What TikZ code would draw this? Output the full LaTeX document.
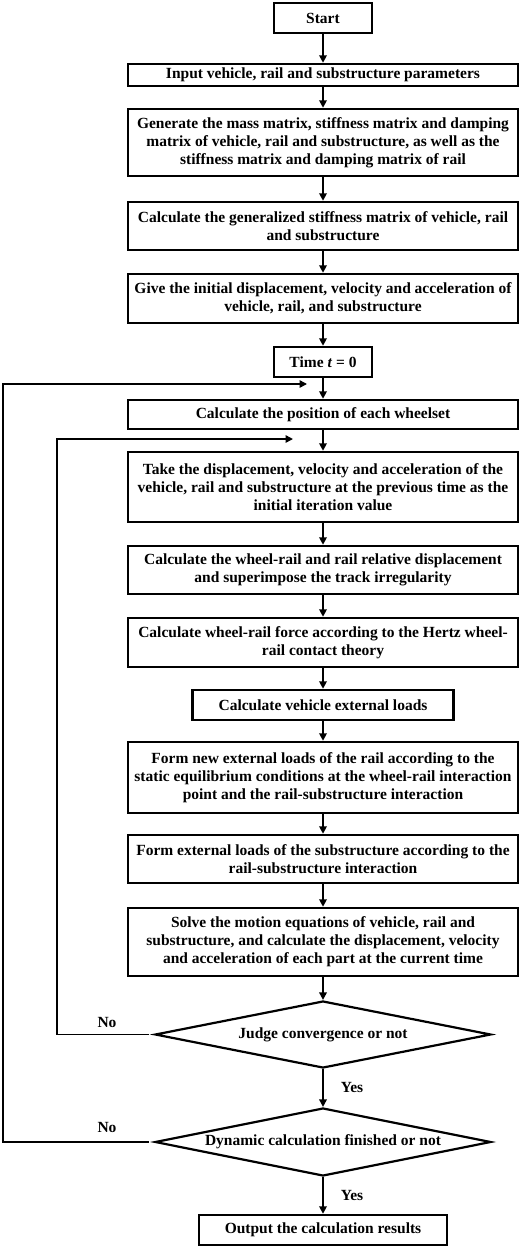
\documentclass[tikz,border=0pt]{standalone}
\usepackage{fontspec}
\setmainfont{Liberation Serif}
\usetikzlibrary{shapes.geometric,arrows.meta}
\newcommand{\flowfnt}{\fontsize{15.5}{18}\selectfont\bfseries}
\begin{document}
\begin{tikzpicture}[x=1pt,y=-1pt,
  box/.style={draw, line width=2.5pt, minimum width=390pt, inner sep=0pt, align=center, font=\flowfnt},
  smallbox/.style={box, minimum width=98pt},
  dia/.style={draw, diamond, line width=2.2pt, aspect=5, minimum width=336pt, minimum height=67pt, inner sep=0pt, align=center, font=\flowfnt},
  arr/.style={-{Triangle[length=7.5pt,width=7.5pt]}, line width=1.8pt},
  looparr/.style={-{Triangle[length=7.5pt,width=7.5pt]}, line width=1.5pt},
  lbl/.style={font=\flowfnt, inner sep=0pt}]
\useasboundingbox (0,0) rectangle (520,1248);
\fill[white] (0,0) rectangle (520,1248);

\node[smallbox, minimum height=30pt] (start) at (323,18) {Start};
\node[box, minimum height=22pt] (input) at (323,75) {Input vehicle, rail and substructure parameters};
\node[box, minimum height=67pt] (gen) at (323,142.5) {Generate the mass matrix, stiffness matrix and damping\\matrix of vehicle, rail and substructure, as well as the\\stiffness matrix and damping matrix of rail};
\node[box, minimum height=48pt] (gsm) at (323,226) {Calculate the generalized stiffness matrix of vehicle, rail\\and substructure};
\node[box, minimum height=49pt] (init) at (323,298.5) {Give the initial displacement, velocity and acceleration of\\vehicle, rail, and substructure};
\node[smallbox, minimum height=30pt] (time) at (323,362) {Time \textit{t} = 0};
\node[box, minimum height=29pt] (pos) at (323,414.5) {Calculate the position of each wheelset};
\node[box, minimum height=70pt] (take) at (323,487) {Take the displacement, velocity and acceleration of the\\vehicle, rail and substructure at the previous time as the\\initial iteration value};
\node[box, minimum height=48pt] (rel) at (323,570) {Calculate the wheel-rail and rail relative displacement\\and superimpose the track irregularity};
\node[box, minimum height=49pt] (hertz) at (323,642.5) {Calculate wheel-rail force according to the Hertz wheel-\\rail contact theory};
\node[box, minimum width=261pt, minimum height=30pt] (veh) at (323,705) {Calculate vehicle external loads};
\node[box, minimum height=71pt] (formnew) at (323,777.5) {Form new external loads of the rail according to the\\static equilibrium conditions at the wheel-rail interaction\\point and the rail-substructure interaction};
\node[box, minimum height=48pt] (formsub) at (323,859) {Form external loads of the substructure according to the\\rail-substructure interaction};
\node[box, minimum height=68pt] (solve) at (323,942) {Solve the motion equations of vehicle, rail and\\substructure, and calculate the displacement, velocity\\and acceleration of each part at the current time};
\node[dia] (d1) at (323,1034.5) {Judge convergence or not};
\node[dia, minimum height=68pt] (d2) at (323,1142) {Dynamic calculation finished or not};
\node[box, minimum width=248pt, minimum height=30pt] (out) at (323,1230) {Output the calculation results};

\draw[arr] (start) -- (input);
\draw[arr] (input) -- (gen);
\draw[arr] (gen) -- (gsm);
\draw[arr] (gsm) -- (init);
\draw[arr] (init) -- (time);
\draw[arr] (time) -- (pos);
\draw[arr] (pos) -- (take);
\draw[arr] (take) -- (rel);
\draw[arr] (rel) -- (hertz);
\draw[arr] (hertz) -- (veh);
\draw[arr] (veh) -- (formnew);
\draw[arr] (formnew) -- (formsub);
\draw[arr] (formsub) -- (solve);
\draw[arr] (solve) -- (d1);
\draw[arr] (d1) -- (d2);
\draw[arr] (d2) -- (out);

\coordinate (loopA) at (3,384);
\coordinate (tipA) at (307,384);
\coordinate (loopB) at (57,439);
\coordinate (tipB) at (293,439);
\draw[looparr, shorten <=5pt] (d2.west) -| (loopA) -- (tipA);
\draw[looparr, shorten <=5pt] (d1.west) -| (loopB) -- (tipB);

\node[lbl] (no1) at (107,1022) {No};
\node[lbl] (no2) at (107,1127) {No};
\node[lbl] (yes1) at (352,1087) {Yes};
\node[lbl] (yes2) at (352,1195) {Yes};
\end{tikzpicture}
\end{document}
